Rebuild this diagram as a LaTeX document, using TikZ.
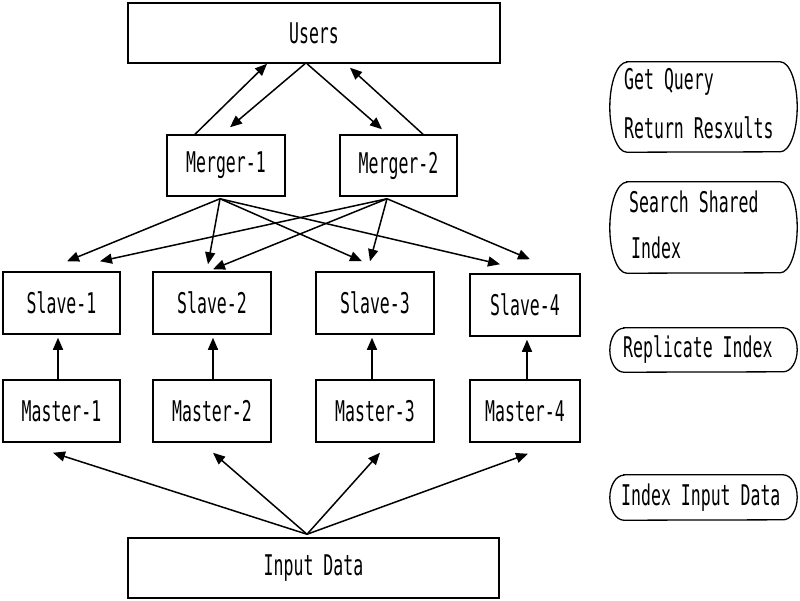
\documentclass[tikz,border=0pt]{standalone}
\usepackage{fontspec}
\newfontfamily\gfont[FakeStretch=0.58]{DejaVu Sans Mono}
\usetikzlibrary{arrows.meta}
\newcommand\pilloutline[3]{\draw[pillline] ([xshift=#3pt]#1.north west) -- ([xshift=-#3pt]#1.north east) arc[start angle=90,end angle=-90,x radius=#3pt,y radius=#2pt] -- ([xshift=#3pt]#1.south west) arc[start angle=270,end angle=90,x radius=#3pt,y radius=#2pt] -- cycle;}
\begin{document}
\begin{tikzpicture}[x=1pt,y=-1pt,
  every node/.style={font=\gfont\fontsize{28.5}{32}\selectfont},
  box/.style={draw=black,line width=1.5pt,inner sep=0pt,minimum width=118pt,minimum height=62pt},
  wide/.style={box,minimum width=372pt,minimum height=60pt},
  pill/.style={inner sep=0pt,minimum width=187pt},
  pillline/.style={line width=1.3pt,draw=black},
  lbl/.style={anchor=west,inner sep=0pt},
  arr/.style={line width=1.5pt,-{Triangle[length=12pt,width=10pt]}}]
\useasboundingbox (0,0) rectangle (800,600);
% boxes
\node[wide] (users) at (314,33) {Users};
\node[box,minimum width=118pt,minimum height=61pt] (m1) at (226,165.5) {Merger-1};
\node[box,minimum width=117pt,minimum height=61pt] (m2) at (398.5,165.5) {Merger-2};
\node[box,minimum width=117pt] (s1) at (61.5,303) {Slave-1};
\node[box] (s2) at (212,303) {Slave-2};
\node[box] (s3) at (375,303) {Slave-3};
\node[box,minimum width=110pt] (s4) at (525,305) {Slave-4};
\node[box,minimum width=117pt] (ma1) at (61.5,411) {Master-1};
\node[box] (ma2) at (212,411) {Master-2};
\node[box] (ma3) at (375,411) {Master-3};
\node[box,minimum width=110pt] (ma4) at (525,411) {Master-4};
\node[wide,minimum width=371pt] (input) at (313.5,568) {Input Data};
% users <-> mergers
\draw[arr] ([xshift=-31pt]m1.north) -- ([xshift=-47pt]users.south);
\draw[arr] ([xshift=-9pt]users.south) -- ([xshift=4pt,yshift=7pt]m1.north);
\draw[arr] ([xshift=-7pt]users.south) -- ([xshift=-16.5pt,yshift=5pt]m2.north);
\draw[arr] ([xshift=24.5pt]m2.north) -- ([xshift=36pt,yshift=-4pt]users.south);
% mergers -> slaves
\draw[arr] ([xshift=-6pt,yshift=-2pt]m1.south) -- ([xshift=5.5pt,yshift=10pt]s1.north);
\draw[arr] ([xshift=-6pt,yshift=-2pt]m1.south) -- ([xshift=-4pt,yshift=7pt]s2.north);
\draw[arr] ([xshift=-6pt,yshift=-2pt]m1.south) -- ([xshift=-13pt,yshift=10pt]s3.north);
\draw[arr] ([xshift=-6pt,yshift=-2pt]m1.south) -- ([xshift=-25pt,yshift=9pt]s4.north);
\draw[arr] ([xshift=-11.5pt,yshift=-2pt]m2.south) -- ([xshift=38.5pt,yshift=10pt]s1.north);
\draw[arr] ([xshift=-11.5pt,yshift=-2pt]m2.south) -- ([xshift=1pt,yshift=2pt]s2.north);
\draw[arr] ([xshift=-11.5pt,yshift=-2pt]m2.south) -- ([xshift=-5pt,yshift=10pt]s3.north);
\draw[arr] ([xshift=-11.5pt,yshift=-2pt]m2.south) -- ([xshift=5pt,yshift=14pt]s4.north);
% masters -> slaves
\draw[arr] ([xshift=-3.5pt]ma1.north) -- ([xshift=-3.5pt,yshift=-3pt]s1.south);
\draw[arr] ([xshift=1pt]ma2.north) -- ([xshift=1pt,yshift=-3pt]s2.south);
\draw[arr] ([xshift=-3pt]ma3.north) -- ([xshift=-3pt,yshift=-3pt]s3.south);
\draw[arr] ([xshift=2pt]ma4.north) -- ([xshift=2pt,yshift=-3pt]s4.south);
% input -> masters
\draw[arr] ([xshift=-6.5pt,yshift=3pt]input.north) -- ([xshift=-8.5pt,yshift=-10pt]ma1.south);
\draw[arr] ([xshift=-6.5pt,yshift=3pt]input.north) -- ([xshift=1pt,yshift=-10pt]ma2.south);
\draw[arr] ([xshift=-6.5pt,yshift=3pt]input.north) -- ([xshift=5pt,yshift=-10pt]ma3.south);
\draw[arr] ([xshift=-6.5pt,yshift=3pt]input.north) -- ([xshift=3pt,yshift=-11pt]ma4.south);
% right-hand legend
\node[pill,minimum height=90pt] (p1) at (703.5,107) {};
\node[pill,minimum height=91pt] (p2) at (703.5,227.5) {};
\node[pill,minimum height=44pt] (p3) at (703.5,350) {};
\node[pill,minimum height=45pt] (p4) at (703.5,497.5) {};
\pilloutline{p1}{45}{17}
\pilloutline{p2}{45.5}{17}
\pilloutline{p3}{22}{14}
\pilloutline{p4}{22.5}{14}
\node[lbl] (t1a) at (624,82) {Get Query};
\node[lbl] (t1b) at (624,128) {Return Resxults};
\node[lbl] (t2a) at (629,202) {Search Shared};
\node[lbl] (t2b) at (631,248) {Index};
\node[lbl] (t3) at (623,350) {Replicate Index};
\node[lbl] (t4) at (621,497.5) {Index Input Data};
\end{tikzpicture}
\end{document}
